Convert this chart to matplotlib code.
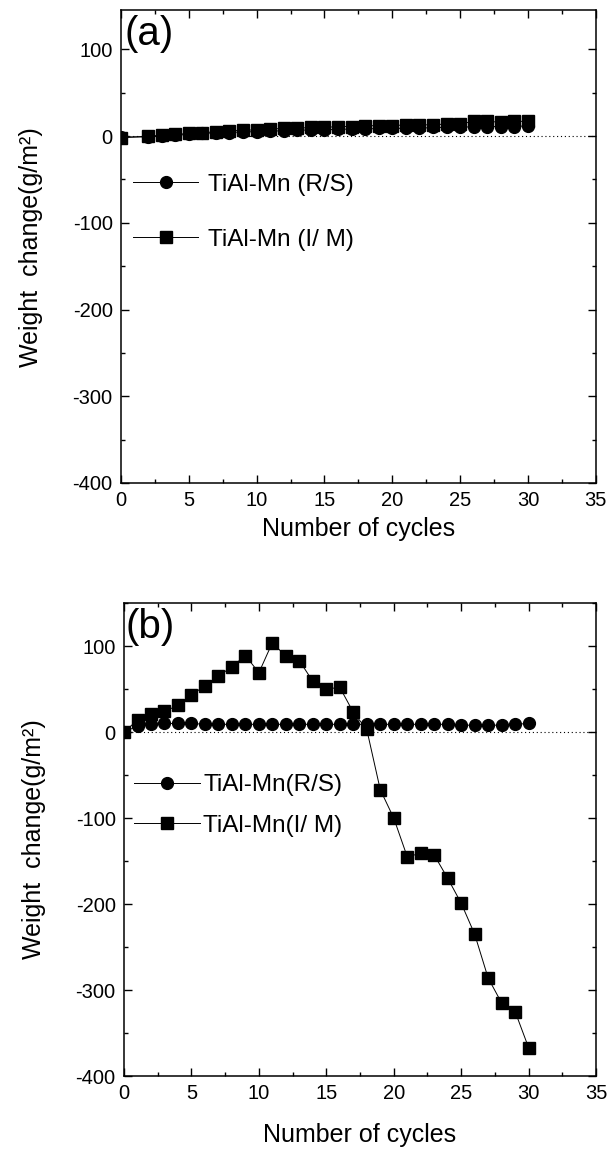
import matplotlib
matplotlib.use("Agg")
import matplotlib.pyplot as plt
from matplotlib.ticker import MultipleLocator

plt.rcParams['font.family'] = ['Liberation Sans', 'DejaVu Sans']
plt.rcParams['axes.unicode_minus'] = False

# panel (a)
cycles_a = [0, 2, 3, 4, 5, 6, 7, 8, 9, 10, 11, 12, 13, 14, 15, 16,
            17, 18, 19, 20, 21, 22, 23, 24, 25, 26, 27, 28, 29, 30]
rs_a = [-1, -1, 0, 1, 2, 3, 4, 4, 5, 5, 6, 6, 7, 7, 7, 8,
        8, 8, 9, 9, 9, 9, 10, 10, 10, 11, 11, 11, 11, 12]
im_a = [-2, 0, 1, 2, 3, 4, 5, 6, 7, 7, 8, 9, 9, 10, 10, 11,
        11, 12, 12, 12, 13, 13, 13, 14, 14, 17, 17, 16, 17, 17]

# panel (b)
cycles_b = list(range(0, 31))
rs_b = [0, 7, 9, 10, 10, 10, 9, 9, 9, 9, 9, 9, 9, 9, 9, 9,
        9, 9, 9, 9, 9, 9, 9, 9, 9, 8, 8, 8, 8, 9, 10]
im_b = [0, 14, 21, 24, 31, 43, 54, 65, 76, 89, 69, 104, 88, 83, 59, 50,
        52, 23, 3, -67, -100, -145, -141, -143, -170, -199, -235, -286,
        -315, -325, -367]

labels_a = ["TiAl-Mn (R/S)", "TiAl-Mn (I/ M)"]
labels_b = ["TiAl-Mn(R/S)", "TiAl-Mn(I/ M)"]


def style_axis(ax, ylim, xpad):
    ax.set_xlim(0, 35)
    ax.set_ylim(ylim)
    ax.xaxis.set_major_locator(MultipleLocator(5))
    ax.xaxis.set_minor_locator(MultipleLocator(2.5))
    ax.yaxis.set_major_locator(MultipleLocator(100))
    ax.yaxis.set_minor_locator(MultipleLocator(50))
    ax.tick_params(which='both', direction='in', top=True, right=True,
                   labelsize=14.5, width=1)
    ax.tick_params(which='major', length=6, pad=6)
    ax.tick_params(which='minor', length=3)
    for s in ax.spines.values():
        s.set_linewidth(1.1)
    ax.set_xlabel("Number of cycles", fontsize=18, labelpad=xpad)
    ax.set_ylabel("Weight  change(g/m²)", fontsize=18)
    ax.yaxis.set_label_coords(-0.165, 0.5)
    ax.axhline(0, ls=(0, (1, 2.5)), lw=0.8, color='black', zorder=0)


fig = plt.figure(figsize=(6.11, 11.5), dpi=100)

ax1 = fig.add_axes([0.198, 0.58, 0.777, 0.411])
ax1.plot(cycles_a, rs_a, '-o', color='black', lw=0.7, ms=8.5, label=labels_a[0])
ax1.plot(cycles_a, im_a, '-s', color='black', lw=0.7, ms=8.5, label=labels_a[1])
style_axis(ax1, (-400, 145), 5)
ax1.text(0.008, 0.99, "(a)", transform=ax1.transAxes, fontsize=29,
         va='top', ha='left')
ax1.legend(loc='center left', bbox_to_anchor=(0.025, 0.573), frameon=False,
           fontsize=17.5, handlelength=2.7, handletextpad=0.4,
           labelspacing=1.35, borderpad=0, borderaxespad=0)

ax2 = fig.add_axes([0.203, 0.0643, 0.7725, 0.4113])
ax2.plot(cycles_b, rs_b, '-o', color='black', lw=0.7, ms=8.5, label=labels_b[0])
ax2.plot(cycles_b, im_b, '-s', color='black', lw=0.7, ms=9, label=labels_b[1])
style_axis(ax2, (-400, 150), 14)
ax2.text(0.003, 0.99, "(b)", transform=ax2.transAxes, fontsize=29,
         va='top', ha='left')
ax2.legend(loc='center left', bbox_to_anchor=(0.021, 0.572), frameon=False,
           fontsize=17.5, handlelength=2.7, handletextpad=0.15,
           labelspacing=0.75, borderpad=0, borderaxespad=0)

fig.savefig("out.png", dpi=100)
